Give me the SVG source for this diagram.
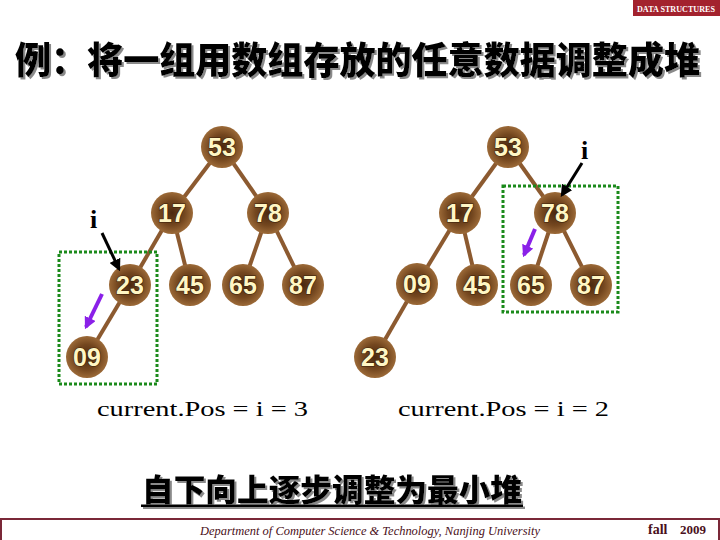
<svg xmlns="http://www.w3.org/2000/svg" width="720" height="540" viewBox="0 0 720 540">
<defs>
<radialGradient id="ng" cx="50%" cy="50%" r="50%">
<stop offset="0%" stop-color="#4a2810"/>
<stop offset="60%" stop-color="#74471f"/>
<stop offset="100%" stop-color="#9c6a38"/>
</radialGradient>
<filter id="sh" x="-5%" y="-20%" width="110%" height="150%">
<feDropShadow dx="2" dy="2" stdDeviation="0.3" flood-color="#8a8a8a" flood-opacity="1"/>
</filter>
<marker id="ahb" viewBox="0 0 10 10" refX="8" refY="5" markerWidth="4" markerHeight="4" orient="auto">
<path d="M0,0 L10,5 L0,10 z" fill="#000"/>
</marker>
<marker id="ahp" viewBox="0 0 10 10" refX="8" refY="5" markerWidth="3" markerHeight="3" orient="auto">
<path d="M0,0 L10,5 L0,10 z" fill="#8a20e8"/>
</marker>
<style>
.n circle{fill:url(#ng);}
.n text{font-family:"Liberation Sans",Arial,sans-serif;font-weight:bold;font-size:25px;fill:#fff6c4;text-anchor:middle;stroke:#3a1e08;stroke-width:1.2px;paint-order:stroke;}
.e line{stroke:#8c5a30;stroke-width:4;}
.box{fill:none;stroke:#1a8a1a;stroke-width:3;stroke-dasharray:3 2;}
.cur{font-family:"Liberation Serif","Times New Roman",serif;font-size:22px;fill:#000;}
.ilab{font-family:"Liberation Serif","Times New Roman",serif;font-weight:bold;font-size:26px;fill:#000;}
.ip{stroke:#000;stroke-width:3;}
.pp{stroke:#8a20e8;stroke-width:4;}
.cjk{font-family:"Noto Sans CJK SC",sans-serif;font-weight:900;}
</style>
</defs>
<rect width="720" height="540" fill="#fff"/>

<!-- header badge -->
<g id="badge">
<rect x="633" y="0" width="87" height="16" fill="#a3222e"/>
<text x="676" y="11.5" text-anchor="middle" font-family="Liberation Serif,serif" font-weight="bold" font-size="8" fill="#fff" textLength="78" lengthAdjust="spacingAndGlyphs">DATA STRUCTURES</text>
</g>

<!-- title -->
<g id="title" class="cjk" font-size="37" filter="url(#sh)">
<text x="15" y="74" fill="#000" textLength="685" lengthAdjust="spacingAndGlyphs">例：将一组用数组存放的任意数据调整成堆</text>
</g>

<!-- connectors -->
<g id="connectors" class="e">
<line x1="222" y1="147" x2="172" y2="213"/>
<line x1="222" y1="147" x2="268" y2="213"/>
<line x1="172" y1="213" x2="130" y2="285"/>
<line x1="172" y1="213" x2="190" y2="285"/>
<line x1="268" y1="213" x2="243" y2="285"/>
<line x1="268" y1="213" x2="303" y2="285"/>
<line x1="130" y1="285" x2="87" y2="357"/>
<line x1="508" y1="147" x2="460" y2="213"/>
<line x1="508" y1="147" x2="555" y2="213"/>
<line x1="460" y1="213" x2="417" y2="284"/>
<line x1="460" y1="213" x2="477" y2="285"/>
<line x1="555" y1="213" x2="531" y2="285"/>
<line x1="555" y1="213" x2="591" y2="285"/>
<line x1="417" y1="284" x2="375" y2="357"/>
</g>

<!-- left tree -->
<g id="L53" class="n"><circle cx="222" cy="147" r="21"/><text x="222" y="156">53</text></g>
<g id="L17" class="n"><circle cx="172" cy="213" r="21"/><text x="172" y="222">17</text></g>
<g id="L78" class="n"><circle cx="268" cy="213" r="21"/><text x="268" y="222">78</text></g>
<g id="L23" class="n"><circle cx="130" cy="285" r="21"/><text x="130" y="294">23</text></g>
<g id="L45" class="n"><circle cx="190" cy="285" r="21"/><text x="190" y="294">45</text></g>
<g id="L65" class="n"><circle cx="243" cy="285" r="21"/><text x="243" y="294">65</text></g>
<g id="L87" class="n"><circle cx="303" cy="285" r="21"/><text x="303" y="294">87</text></g>
<g id="L09" class="n"><circle cx="87" cy="357" r="21"/><text x="87" y="366">09</text></g>

<!-- right tree -->
<g id="R53" class="n"><circle cx="508" cy="147" r="21"/><text x="508" y="156">53</text></g>
<g id="R17" class="n"><circle cx="460" cy="213" r="21"/><text x="460" y="222">17</text></g>
<g id="R78" class="n"><circle cx="555" cy="213" r="21"/><text x="555" y="222">78</text></g>
<g id="R09" class="n"><circle cx="417" cy="284" r="21"/><text x="417" y="293">09</text></g>
<g id="R45" class="n"><circle cx="477" cy="285" r="21"/><text x="477" y="294">45</text></g>
<g id="R65" class="n"><circle cx="531" cy="285" r="21"/><text x="531" y="294">65</text></g>
<g id="R87" class="n"><circle cx="591" cy="285" r="21"/><text x="591" y="294">87</text></g>
<g id="R23" class="n"><circle cx="375" cy="357" r="21"/><text x="375" y="366">23</text></g>

<!-- highlights -->
<g id="boxes">
<rect class="box" x="59" y="252" width="98" height="132"/>
<rect class="box" x="503" y="186" width="115" height="126"/>
</g>

<!-- pointers -->
<g id="pointers">
<text class="ilab" x="90" y="228">i</text>
<line class="ip" x1="102" y1="233" x2="119" y2="269" marker-end="url(#ahb)"/>
<line class="pp" x1="102" y1="294" x2="86" y2="327" marker-end="url(#ahp)"/>
<text class="ilab" x="581" y="159">i</text>
<line class="ip" x1="582" y1="163" x2="562" y2="195" marker-end="url(#ahb)"/>
<line class="pp" x1="535" y1="229" x2="524" y2="255" marker-end="url(#ahp)"/>
</g>

<!-- captions -->
<g id="captions">
<text class="cur" x="97" y="416" textLength="211" lengthAdjust="spacingAndGlyphs">current.Pos = i = 3</text>
<text class="cur" x="398" y="416" textLength="211" lengthAdjust="spacingAndGlyphs">current.Pos = i = 2</text>
</g>

<!-- bottom note -->
<g id="note" class="cjk" font-size="31" filter="url(#sh)">
<text x="142" y="501" fill="#000" textLength="380" lengthAdjust="spacingAndGlyphs">自下向上逐步调整为最小堆</text>
<rect x="141" y="504.5" width="382" height="2.5" fill="#000"/>
</g>

<!-- footer -->
<g id="footer">
<rect x="1" y="519" width="718" height="24" fill="none" stroke="#7a2838" stroke-width="2"/>
<text x="200" y="535" font-family="Liberation Serif,serif" font-style="italic" font-size="12" fill="#4a1020" textLength="340" lengthAdjust="spacingAndGlyphs">Department of Computer Science &amp; Technology,  Nanjing University</text>
<text x="648" y="534" font-family="Liberation Serif,serif" font-weight="bold" font-size="14" fill="#4a1020">fall</text>
<text x="680" y="534" font-family="Liberation Serif,serif" font-weight="bold" font-size="13" fill="#4a1020">2009</text>
</g>
</svg>
